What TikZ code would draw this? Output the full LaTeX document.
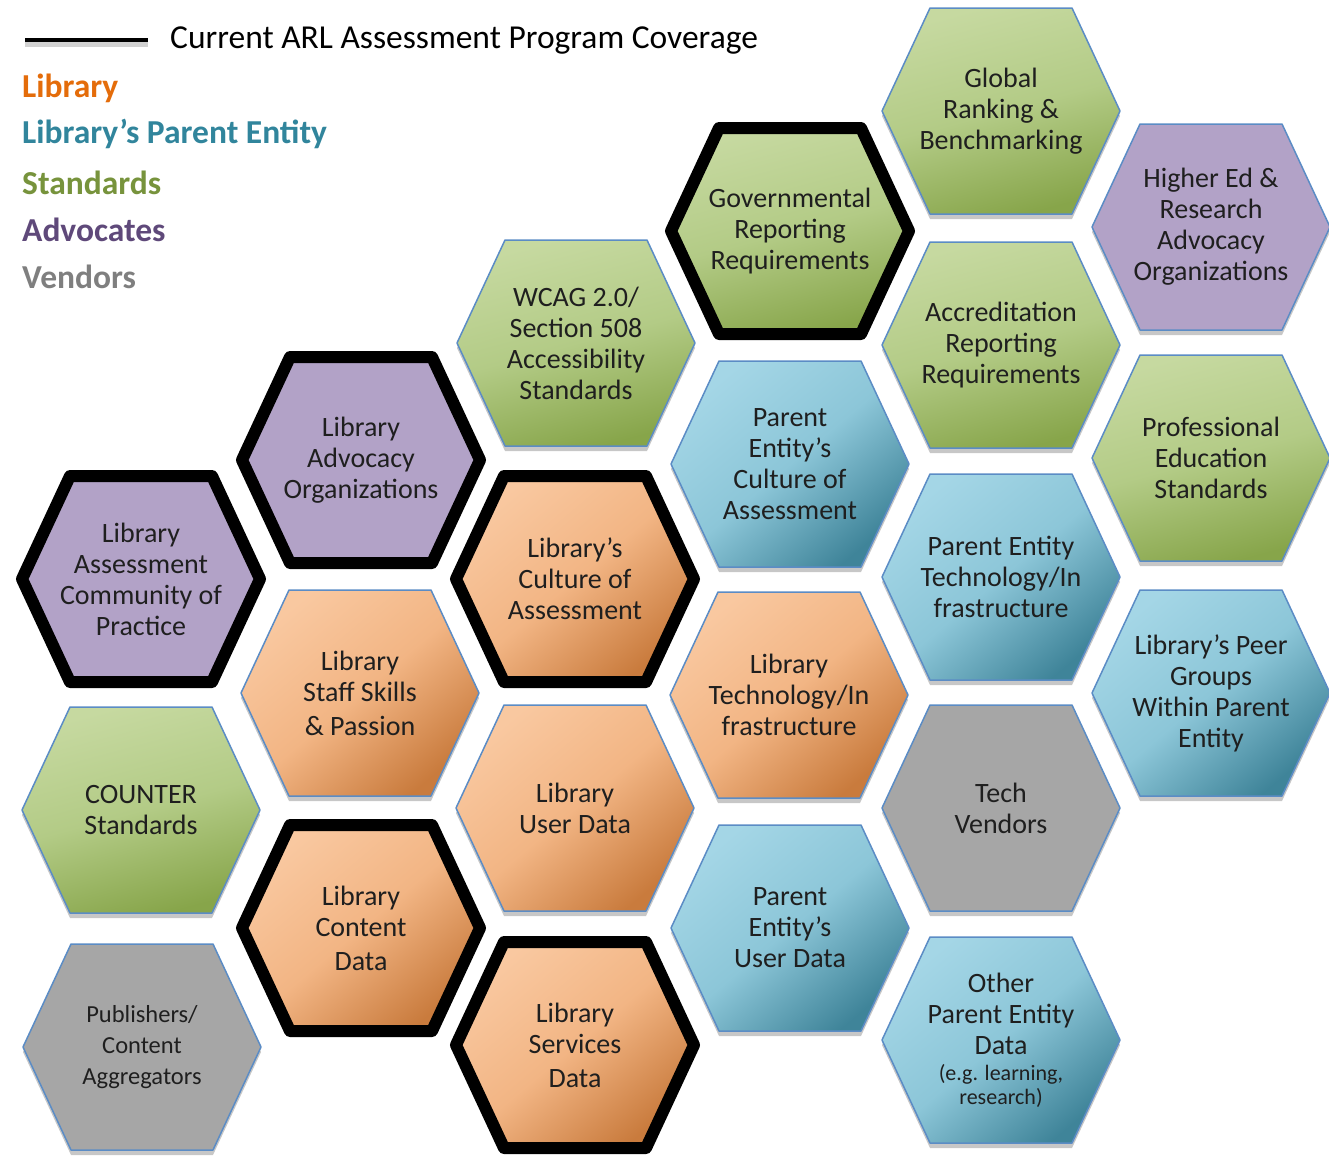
\documentclass[tikz,border=0pt]{standalone}
\usepackage{fontspec}
\setmainfont{Carlito}
\usetikzlibrary{shadows}
\definecolor{hexedge}{HTML}{5B8CC5}
\definecolor{orlight}{HTML}{F9C8A0}
\definecolor{ormid}{HTML}{F2B584}
\definecolor{ordark}{HTML}{C97B3D}
\definecolor{bllight}{HTML}{A4D6E6}
\definecolor{blmid}{HTML}{8CC6D8}
\definecolor{bldark}{HTML}{3F8499}
\definecolor{grlight}{HTML}{C6D9A0}
\definecolor{grmid}{HTML}{B3CB86}
\definecolor{grdark}{HTML}{87A54A}
\definecolor{purp}{HTML}{B2A2C7}
\definecolor{gryfill}{HTML}{A6A6A6}
\definecolor{legLib}{HTML}{E46C0A}
\definecolor{legPar}{HTML}{31859C}
\definecolor{legStd}{HTML}{77933C}
\definecolor{legAdv}{HTML}{5F497A}
\definecolor{legVen}{HTML}{7F7F7F}
\newcommand\hexcell[5]{%
  \begin{scope}[shift={(#2,#3)}]
    \path[#4] (-119,0) -- (-71,-103) -- (71,-103) -- (119,0) -- (71,103) -- (-71,103) -- cycle;
    \node[hextext] (#1) at (0,0) {#5};
  \end{scope}}
\newcommand\smallline{\fontsize{22}{26}\selectfont}
\newcommand\publine{\fontsize{24.5}{30}\selectfont}
\begin{document}
\begin{tikzpicture}[x=1pt,y=-1pt,
  hextext/.style={align=center, inner sep=0pt, text=black!88, font=\fontsize{28}{31}\selectfont},
  hexbase/.style={draw=hexedge, line width=1.5pt, line join=round,
     drop shadow={shadow xshift=0pt, shadow yshift=-5pt, opacity=0.22, fill=black}},
  covered/.style={draw=black, line width=12pt, line join=round},
  orangehex/.style={hexbase, top color=orlight, bottom color=ordark, shading angle=40, middle color=ormid},
  bluehex/.style={hexbase, top color=bllight, bottom color=bldark, shading angle=40, middle color=blmid},
  greenhex/.style={hexbase, top color=grlight, bottom color=grdark, shading angle=15, middle color=grmid},
  purplehex/.style={hexbase, fill=purp},
  grayhex/.style={hexbase, fill=gryfill},
  legend/.style={anchor=west, inner sep=0pt, font=\fontsize{33.5}{38}\selectfont\bfseries}
]
\useasboundingbox (0,0) rectangle (1329,1157);
\fill[white] (0,0) rectangle (1329,1157);

% legend
\coordinate (ls) at (25,40);
\coordinate (le) at (148,40);
\draw[line width=5pt, black!18] ([yshift=-4pt]ls) -- ([yshift=-4pt]le);
\draw[line width=3.5pt, black] (ls) -- (le);
\node[anchor=west, inner sep=0pt, font=\fontsize{33.5}{38}\selectfont] (legtitle) at (170,41) {Current ARL Assessment Program Coverage};
\node[legend, text=legLib] (legA) at (22,88) {Library};
\node[legend, text=legPar] (legB) at (22,134) {Library’s Parent Entity};
\node[legend, text=legStd] (legC) at (22,183) {Standards};
\node[legend, text=legAdv] (legD) at (22,230) {Advocates};
\node[legend, text=legVen] (legE) at (22,277) {Vendors};

% plain hexagons
\hexcell{counter}{141}{810}{greenhex}{COUNTER\\Standards}
\hexcell{publishers}{142}{1047}{grayhex}{\publine Publishers/\\\publine Content\\\publine Aggregators}
\hexcell{staff}{360}{693}{orangehex}{Library\\Staff Skills\\[3pt]\& Passion}
\hexcell{wcag}{576}{343}{greenhex}{WCAG 2.0/\\Section 508\\Accessibility\\Standards}
\hexcell{userdata}{575}{808}{orangehex}{Library\\User Data}
\hexcell{peculture}{790}{464}{bluehex}{Parent\\Entity’s\\Culture of\\Assessment}
\hexcell{libtech}{789}{695}{orangehex}{Library\\Technology/In\\frastructure}
\hexcell{peuser}{790}{928}{bluehex}{Parent\\Entity’s\\User Data}
\hexcell{global}{1001}{111}{greenhex}{Global\\Ranking \&\\Benchmarking}
\hexcell{accred}{1001}{345}{greenhex}{Accreditation\\Reporting\\Requirements}
\hexcell{petech}{1001}{577}{bluehex}{Parent Entity\\Technology/In\\frastructure}
\hexcell{techvend}{1001}{808}{grayhex}{Tech\\Vendors}
\hexcell{otherpe}{1001}{1040}{bluehex}{Other\\Parent Entity\\Data\\[-5pt]\smallline(e.g. learning,\\[-7pt]\smallline research)}
\hexcell{highered}{1211}{227}{purplehex}{Higher Ed \&\\Research\\Advocacy\\Organizations}
\hexcell{profed}{1211}{458}{greenhex}{Professional\\Education\\Standards}
\hexcell{peer}{1211}{693}{bluehex}{Library’s Peer\\Groups\\Within Parent\\Entity}

% covered hexagons (thick black outline)
\hexcell{lacp}{141}{579}{purplehex, covered}{Library\\Assessment\\Community of\\Practice}
\hexcell{lao}{361}{460}{purplehex, covered}{Library\\Advocacy\\Organizations}
\hexcell{content}{361}{928}{orangehex, covered}{Library\\Content\\[3pt]Data}
\hexcell{libculture}{575}{579}{orangehex, covered}{Library’s\\Culture of\\Assessment}
\hexcell{services}{575}{1045}{orangehex, covered}{Library\\Services\\[3pt]Data}
\hexcell{gov}{790}{231}{greenhex, covered}{Governmental\\Reporting\\Requirements}
\end{tikzpicture}
\end{document}
